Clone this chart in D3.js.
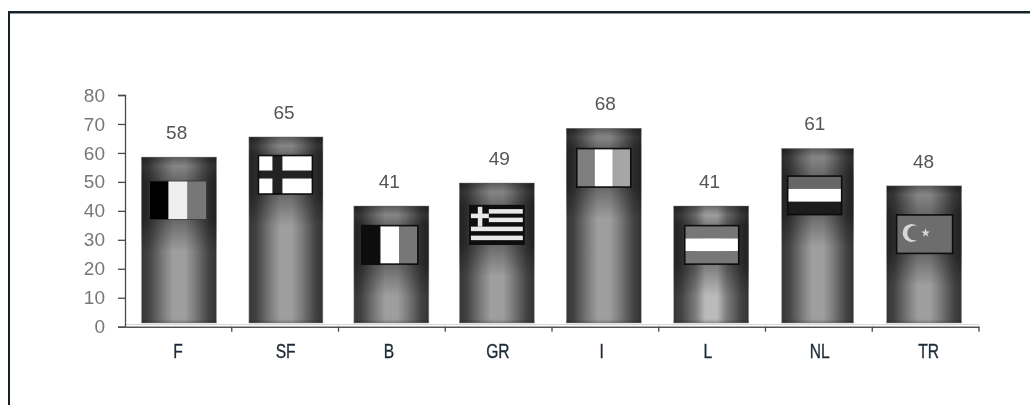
<!DOCTYPE html>
<html>
<head>
<meta charset="utf-8">
<script src="https://cdn.jsdelivr.net/npm/d3@7"></script>
<style>
html, body { margin: 0; padding: 0; background: #fff; overflow: hidden; }
</style>
</head>
<body>
<div id="chart"></div>
<script>
//data
const categories = ["F", "SF", "B", "GR", "I", "L", "NL", "TR"];
const values = [58, 65, 41, 49, 68, 41, 61, 48];
const yTickValues = [0, 10, 20, 30, 40, 50, 60, 70, 80];
// top edge of each flag, read against the y axis
const flagTops = [50.3, 59.1, 34.9, 41.8, 61.5, 34.9, 52, 38.6];

//SVG
const width = 1030;
const height = 405;
const svg = d3.select("#chart")
    .append("svg")
    .attr("width", width)
    .attr("height", height)
    .attr("viewBox", [0, 0, width, height])
    .style("display", "block");

const defs = svg.append("defs");
// the source is a soft scan
defs.append("filter").attr("id", "soft")
    .append("feGaussianBlur").attr("stdDeviation", 0.5);

const chart = svg.append("g").attr("filter", "url(#soft)");

//frame
chart.append("path").attr("d", "M9.5,405V13.5H1030").attr("fill", "none")
    .attr("stroke", "#8f9699").attr("stroke-width", 1);
chart.append("path").attr("d", "M9,405V12H1030").attr("fill", "none")
    .attr("stroke", "#14232b").attr("stroke-width", 2);

//scales
const xScale = d3.scaleBand()
    .domain(categories)
    .range([125, 979]);
const yScale = d3.scaleLinear()
    .domain([0, 80])
    .range([326.7, 95]);
// bars sit a little above the axis in the source
const yBar = d3.scaleLinear()
    .domain([0, 80])
    .range([324, 93.8]);
const barBottom = 323;

// hand nudges, the source isn't quite regular
const barDx = [0.6, 0.8, -0.5, -1.8, -1.6, -0.9, -1.2, -1.5];
const barWidths = [75, 74, 75, 75, 75, 75, 72, 75];
const catLabelDx = [-0.4, 0.5, -3, -0.8, -3.6, -4.4, 0.8, 3];
const valueLabelDx = [-1.7, -1, -2.5, 0.7, 0, -2.5, -4, -2];
const flagDx = [-0.4, 0.3, -2, -1.8, -1.6, -0.4, -4.2, -1];
const flagWidths = [57, 54, 56, 54, 54, 54, 54, 56];
const flagH = 38.5;

const barCenter = d => xScale(d) + xScale.bandwidth() / 2;

//bars
categories.forEach((c, i) => {
    const top = yBar(values[i]);
    const h = barBottom - top;
    const w = barWidths[i];
    const x0 = barCenter(c) + barDx[i] - w / 2;

    const mid = c === "L" ? "#c4c4c4" : "#a6a6a6";
    const horiz = defs.append("linearGradient").attr("id", "h" + i);
    [[0, "#383838"], [0.1, "#464646"], [0.3, "#868686"], [0.42, mid], [0.58, mid], [0.7, "#868686"], [0.9, "#464646"], [1, "#363636"]].forEach(s => {
        horiz.append("stop").attr("offset", s[0]).attr("stop-color", s[1]);
    });

    // darker shoulder round the flag, light band under the top edge
    const vert = defs.append("linearGradient").attr("id", "v" + i)
        .attr("x1", 0).attr("x2", 0).attr("y1", 0).attr("y2", 1);
    const flagStart = yScale(flagTops[i]) - top;
    [[0, 0.45], [9, 0.2], [flagStart, 0.38], [flagStart + flagH, 0.38], [flagStart + flagH + 32, 0.05], [h - 4, 0.05], [h, 0.25]]
        .forEach(s => {
            vert.append("stop").attr("offset", Math.min(1, s[0] / h))
                .attr("stop-color", "#000").attr("stop-opacity", s[1]);
        });

    chart.append("rect")
        .attr("x", x0).attr("y", top).attr("width", w).attr("height", h)
        .attr("fill", `url(#h${i})`)
        .attr("stroke", "#a8a8a8").attr("stroke-width", 0.6);
    chart.append("rect")
        .attr("x", x0).attr("y", top).attr("width", w).attr("height", h)
        .attr("fill", `url(#v${i})`);

    chart.append("text")
        .attr("x", barCenter(c) + valueLabelDx[i])
        .attr("y", top - 18)
        .attr("text-anchor", "middle")
        .attr("font-family", "'Liberation Sans', Arial, sans-serif")
        .attr("font-size", "19px")
        .attr("fill", "#555")
        .text(values[i]);
});

//flags
function stripesV(g, w, colors) {
    colors.forEach((col, k) => {
        g.append("rect").attr("x", k * w / 3).attr("y", 0)
            .attr("width", w / 3).attr("height", flagH).attr("fill", col);
    });
}
function stripesH(g, w, colors) {
    colors.forEach((col, k) => {
        g.append("rect").attr("x", 0).attr("y", k * flagH / 3)
            .attr("width", w).attr("height", flagH / 3).attr("fill", col);
    });
}
const flagPainters = {
    F: (g, w) => stripesV(g, w, ["#000", "#efefef", "#777"]),
    SF: (g, w) => {
        g.append("rect").attr("width", w).attr("height", flagH).attr("fill", "#fff");
        g.append("rect").attr("x", 14).attr("width", 10).attr("height", flagH).attr("fill", "#222");
        g.append("rect").attr("y", 15).attr("width", w).attr("height", 8).attr("fill", "#222");
    },
    B: (g, w) => stripesV(g, w, ["#111", "#fff", "#777"]),
    GR: (g, w) => {
        g.append("rect").attr("width", w).attr("height", flagH).attr("fill", "#111");
        [3.5, 12, 21, 30].forEach((sy, k) => {
            g.append("rect").attr("x", k < 2 ? 19 : 1).attr("y", sy)
                .attr("width", k < 2 ? w - 20 : w - 2).attr("height", 4.5).attr("fill", "#e8e8e8");
        });
        g.append("rect").attr("x", 8).attr("y", 1).attr("width", 4.5).attr("height", 20).attr("fill", "#e8e8e8");
        g.append("rect").attr("x", 1).attr("y", 8).attr("width", 18).attr("height", 4.5).attr("fill", "#e8e8e8");
    },
    I: (g, w) => stripesV(g, w, ["#7e7e7e", "#fff", "#a6a6a6"]),
    L: (g, w) => stripesH(g, w, ["#777", "#fff", "#777"]),
    NL: (g, w) => stripesH(g, w, ["#666", "#fff", "#1c1c1c"]),
    TR: (g, w) => {
        g.append("rect").attr("width", w).attr("height", flagH).attr("fill", "#6d6d6d");
        g.append("circle").attr("cx", 15).attr("cy", 18).attr("r", 9).attr("fill", "#d8d8d8");
        g.append("circle").attr("cx", 18).attr("cy", 18).attr("r", 7.4).attr("fill", "#6d6d6d");
        g.append("path").attr("d", d3.symbol(d3.symbolStar, 24)).attr("fill", "#d8d8d8")
            .attr("transform", "translate(29,18)");
    }
};
categories.forEach((c, i) => {
    const w = flagWidths[i];
    const g = chart.append("g")
        .attr("transform", `translate(${barCenter(c) + flagDx[i] - w / 2},${yScale(flagTops[i])})`);
    flagPainters[c](g, w);
    g.append("rect")
        .attr("width", w).attr("height", flagH)
        .attr("fill", "none")
        .attr("stroke", c === "F" ? "#333" : "#0c0c0c")
        .attr("stroke-width", c === "F" ? 0.8 : 1.6);
});

//light edge along the axis
chart.append("line")
    .attr("x1", 125).attr("x2", 979)
    .attr("y1", 324.6).attr("y2", 324.6)
    .attr("stroke", "#d4d4d4").attr("stroke-width", 1);

//Y Axis
const yAxis = d3.axisLeft(yScale)
    .tickValues(yTickValues)
    .tickSize(7)
    .tickPadding(13);
const yG = chart.append("g")
    .attr("transform", "translate(125, 0)")
    .call(yAxis);
yG.selectAll("path, line").attr("stroke", "#4a4a4a").attr("stroke-width", 1.3);
yG.selectAll("text")
    .attr("font-family", "'Liberation Sans', Arial, sans-serif")
    .attr("font-size", "19px")
    .attr("fill", "#777");

//X Axis
const xAxis = d3.axisBottom(xScale)
    .tickSize(0)
    .tickPadding(17);
const xG = chart.append("g")
    .attr("transform", `translate(0, ${yScale(0)})`)
    .call(xAxis);
xG.select(".domain").attr("stroke", "#555").attr("stroke-width", 1.6);
// no narrow face installed, squeeze the regular one
xG.selectAll("text")
    .attr("font-family", "'Liberation Sans', sans-serif")
    .attr("font-size", "20px")
    .attr("fill", "#1f2c36")
    .attr("stroke", "#1f2c36")
    .attr("stroke-width", 0.35)
    .attr("transform", (d, i) => `translate(${catLabelDx[i]},0) scale(0.78,1)`);
//Ticks between the categories
xScale.domain().forEach(c => {
    const x = xScale(c) + xScale.step();
    xG.append("line")
        .attr("x1", x).attr("x2", x)
        .attr("y1", 0).attr("y2", 5)
        .attr("stroke", "#4a4a4a").attr("stroke-width", 1.3);
});
</script>
</body>
</html>
